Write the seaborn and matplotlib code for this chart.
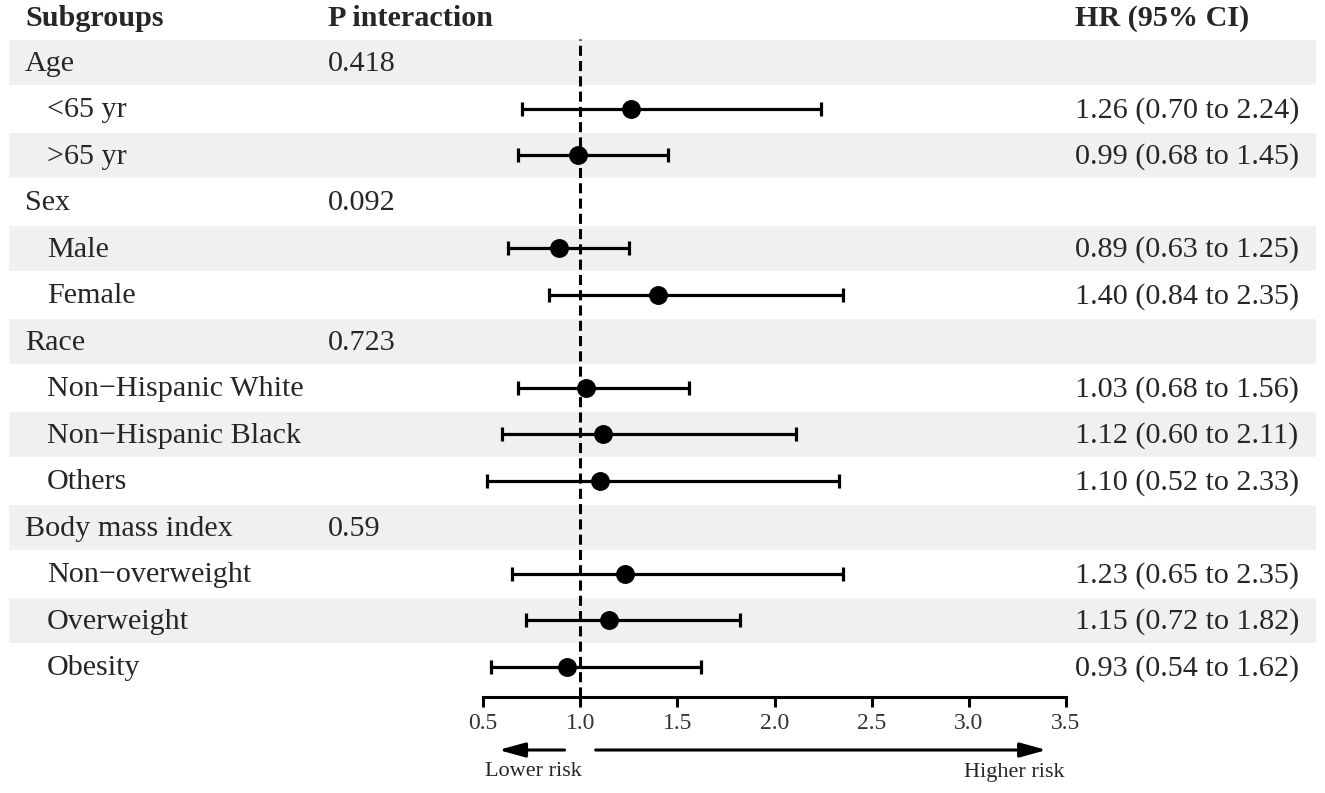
import numpy as np
import pandas as pd
import matplotlib
matplotlib.use("Agg")
import matplotlib.pyplot as plt
import seaborn as sns

# rows of the forest plot, top to bottom
labels = ["Age", "<65 yr", ">65 yr", "Sex", "Male", "Female", "Race",
          "Non\u2212Hispanic White", "Non\u2212Hispanic Black", "Others",
          "Body mass index", "Non\u2212overweight", "Overweight", "Obesity"]
is_group = [True, False, False, True, False, False, True,
            False, False, False, True, False, False, False]
p_interaction = ["0.418", "", "", "0.092", "", "", "0.723",
                 "", "", "", "0.59", "", "", ""]
hr = [np.nan, 1.26, 0.99, np.nan, 0.89, 1.40, np.nan,
      1.03, 1.12, 1.10, np.nan, 1.23, 1.15, 0.93]
ci_low = [np.nan, 0.70, 0.68, np.nan, 0.63, 0.84, np.nan,
          0.68, 0.60, 0.52, np.nan, 0.65, 0.72, 0.54]
ci_high = [np.nan, 2.24, 1.45, np.nan, 1.25, 2.35, np.nan,
           1.56, 2.11, 2.33, np.nan, 2.35, 1.82, 1.62]
x_ticks = [0.5, 1.0, 1.5, 2.0, 2.5, 3.0, 3.5]

df = pd.DataFrame({"label": labels, "group": is_group, "p": p_interaction,
                   "hr": hr, "lo": ci_low, "hi": ci_high})
df["row"] = np.arange(len(df))

sns.set_theme(style="white")
plt.rcParams["font.family"] = ["Liberation Serif", "DejaVu Serif"]
FS = 21.7

W, H = 1325, 793
fig = plt.figure(figsize=(W / 100, H / 100), dpi=100)

# background axes: x in pixels, y in row units
pitch, row0 = 46.5, 62
bg = fig.add_axes([0, 0, 1, 1])
bg.set_xlim(0, W)
bg.set_ylim((H - row0) / pitch, (0 - row0) / pitch)
bg.axis("off")

shade = "#eef1f0"
for i in df["row"]:
    if i % 2 == 0:
        bg.barh(i, 1308, left=8, height=0.98, color=shade, zorder=0)

# headers
hy = (18 - row0) / pitch
bg.text(25, hy, "Subgroups", fontsize=FS, fontweight="bold", va="center")
bg.text(328, hy, "P interaction", fontsize=FS, fontweight="bold", va="center")
bg.text(1075, hy, "HR (95% CI)", fontsize=FS, fontweight="bold", va="center")

off = 0.04  # text sits slightly below the row centre
for _, r in df.iterrows():
    y = r["row"] + off
    bg.text(25 if r["group"] else 47, y, r["label"], fontsize=FS, va="center")
    if r["p"]:
        bg.text(328, y, r["p"], fontsize=FS, va="center")
    if not np.isnan(r["hr"]):
        bg.text(1075, y, f"{r['hr']:.2f} ({r['lo']:.2f} to {r['hi']:.2f})",
                fontsize=FS, va="center")

# forest panel
left, right, top, bottom = 483, 1066, 39, 697
ax = fig.add_axes([left / W, (H - bottom) / H, (right - left) / W, (bottom - top) / H])
ax.patch.set_alpha(0)
ax.set_xlim(0.5, 3.5)
ax.set_ylim((bottom - row0) / pitch, (top - row0) / pitch)

pts = df.dropna(subset=["hr"])
ax.errorbar(pts["hr"], pts["row"],
            xerr=[pts["hr"] - pts["lo"], pts["hi"] - pts["hr"]],
            fmt="none", ecolor="black", elinewidth=2.3, capsize=4.8, capthick=2.3, zorder=2)
sns.scatterplot(data=pts, x="hr", y="row", ax=ax, color="black", s=185,
                edgecolor="black", linewidth=0, zorder=3, legend=False)
ax.axvline(1.0, color="black", lw=2.2, ls=(0, (3.3, 1.7)), zorder=1)

for s in ["top", "right", "left"]:
    ax.spines[s].set_visible(False)
ax.spines["bottom"].set_linewidth(2.2)
ax.spines["bottom"].set_color("black")
ax.set_xticks(x_ticks)
ax.set_yticks([])
ax.tick_params(axis="x", direction="out", length=7.2, width=2.2, color="black",
               labelsize=17, labelcolor="#333333", pad=4, bottom=True)
ax.set_xlabel("")
ax.set_ylabel("")

# direction arrows
arrow = dict(arrowstyle="-|>,head_length=0.8,head_width=0.22", lw=2.2,
             color="black", mutation_scale=20, shrinkA=0, shrinkB=0)
ay = -(750 - bottom) / (bottom - top)
ax.annotate("", xy=(0.58, ay), xytext=(0.92, ay),
            xycoords=("data", "axes fraction"), arrowprops=arrow, annotation_clip=False)
ax.annotate("", xy=(3.40, ay), xytext=(1.08, ay),
            xycoords=("data", "axes fraction"), arrowprops=arrow, annotation_clip=False)
ty = -(772 - bottom) / (bottom - top)
ax.text(0.51, ty, "Lower risk", transform=ax.get_xaxis_transform(),
        fontsize=16, ha="left", va="center")
ax.text(3.49, ty, "Higher risk", transform=ax.get_xaxis_transform(),
        fontsize=16, ha="right", va="center")

fig.savefig("out.png", dpi=100)
